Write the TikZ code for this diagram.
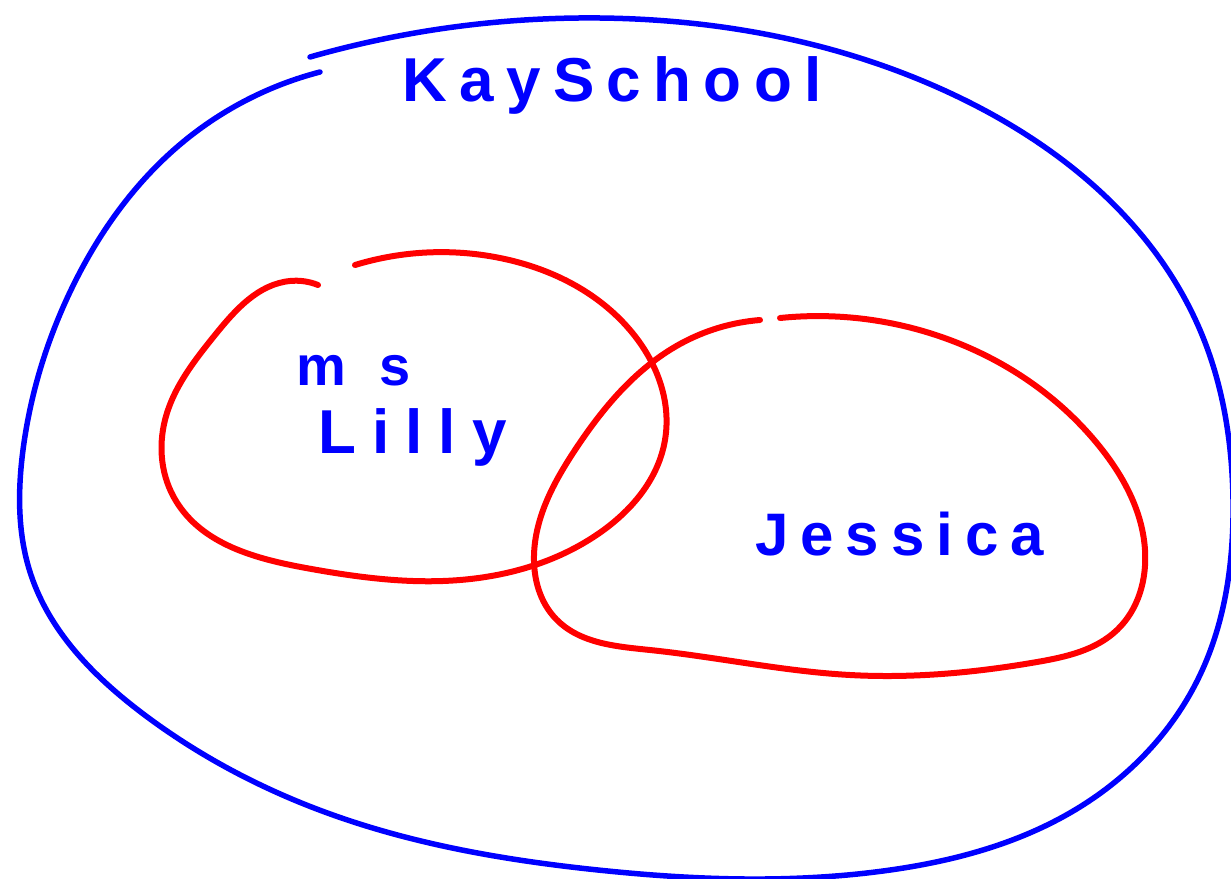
\documentclass[tikz,border=0pt]{standalone}
\usepackage{fontspec}
\setmainfont{Liberation Sans}
\usetikzlibrary{hobby}
\definecolor{penblue}{RGB}{0,0,255}
\definecolor{penred}{RGB}{255,0,0}
\begin{document}
\begin{tikzpicture}[x=1pt,y=-1pt,
  blueline/.style={draw=penblue,line width=5.5pt,line cap=round,line join=round},
  redline/.style={draw=penred,line width=6pt,line cap=round,line join=round},
  hand/.style={text=penblue,inner sep=0pt,anchor=base west}]
\useasboundingbox (0,0) rectangle (1231,878);
% outer blue set
\draw[blueline] (310,57) to[curve through={(600,18) .. (950,93) .. (1200,330) .. (1233,500) .. (1200,675) .. (1083,805) .. (883,871) .. (598,870) .. (333,815) .. (142,713) .. (31,575) .. (23,450) .. (70,292) .. (183,142)}] (320,72);
% Ms Lilly set
\draw[redline] (355,265) to[curve through={(500,258) .. (630,330) .. (665,440) .. (598,534) .. (460,580) .. (306,568) .. (176,501) .. (165,420) .. (215,335) .. (290,281)}] (318,285);
% Jessica set
\draw[redline] (780,318) to[curve through={(950,340) .. (1100,447) .. (1145,550) .. (1117,630) .. (1037,662) .. (850,675) .. (650,650) .. (556,619) .. (534,555) .. (575,450) .. (680,344)}] (760,320);
% labels
\node[hand,font=\bfseries\fontsize{62}{62}\selectfont\addfontfeature{LetterSpace=20}] (kay) at (402,101) {KaySchool};
\node[hand,font=\bfseries\fontsize{56}{56}\selectfont\addfontfeature{LetterSpace=60}] (ms) at (296,385) {ms};
\node[hand,font=\bfseries\fontsize{62}{62}\selectfont\addfontfeature{LetterSpace=26}] (lilly) at (318,453) {Lilly};
\node[hand,font=\bfseries\fontsize{60}{60}\selectfont\addfontfeature{LetterSpace=20}] (jess) at (755,555) {Jessica};
\end{tikzpicture}
\end{document}
